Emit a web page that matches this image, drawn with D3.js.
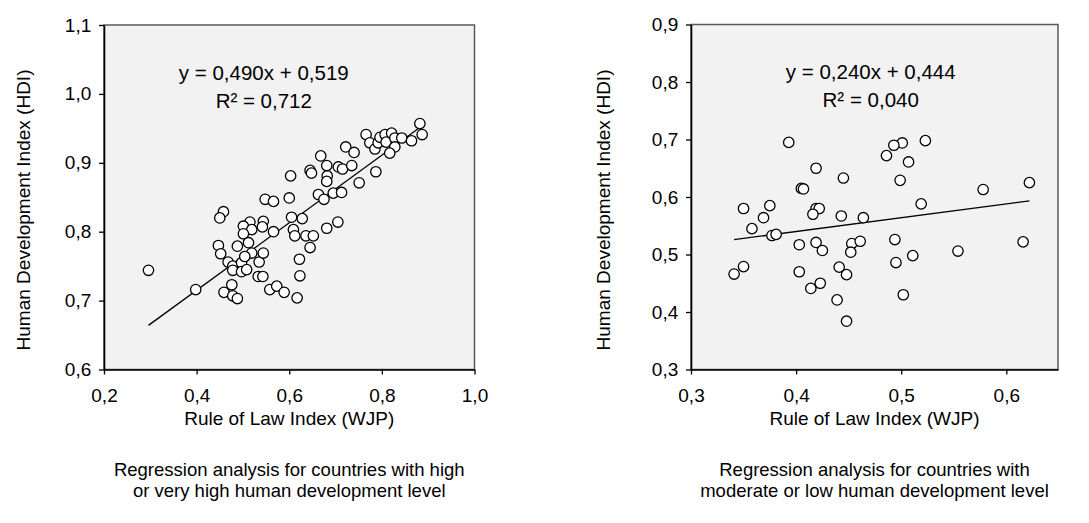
<!DOCTYPE html>
<html>
<head>
<meta charset="utf-8">
<script src="https://cdn.jsdelivr.net/npm/d3@7"></script>
<style>
  body { margin: 0; background: #fff; }
  svg { display: block; font-family: "Liberation Sans", Arial, sans-serif; }
</style>
</head>
<body>
<div id="chart"></div>
<script>
// left panel: high / very high HDI countries
const highRuleOfLaw = [0.548,0.458,0.450,0.515,0.544,0.501,0.519,0.542,0.501,0.447,0.452,0.488,0.512,0.468,0.478,0.478,0.497,0.497,0.508,0.519,0.504,0.535,0.544,0.533,0.543,0.296,0.398,0.459,0.476,0.478,0.488,0.558,0.573,0.589,0.617,0.623,0.622,0.645,0.566,0.609,0.612,0.636,0.652,0.681,0.705,0.605,0.628,0.566,0.600,0.663,0.675,0.695,0.713,0.751,0.603,0.645,0.648,0.682,0.681,0.668,0.681,0.706,0.715,0.735,0.787,0.722,0.740,0.766,0.774,0.785,0.792,0.796,0.807,0.821,0.809,0.828,0.843,0.828,0.817,0.864,0.882,0.887];
const highHdi = [0.847,0.829,0.820,0.814,0.815,0.808,0.803,0.807,0.797,0.780,0.768,0.779,0.784,0.756,0.750,0.744,0.755,0.742,0.745,0.769,0.764,0.756,0.769,0.735,0.735,0.744,0.716,0.712,0.723,0.707,0.703,0.716,0.721,0.712,0.704,0.736,0.760,0.777,0.800,0.803,0.794,0.794,0.794,0.805,0.814,0.821,0.819,0.844,0.849,0.854,0.847,0.856,0.857,0.871,0.881,0.889,0.885,0.881,0.873,0.910,0.896,0.894,0.891,0.896,0.887,0.923,0.915,0.941,0.929,0.920,0.929,0.937,0.941,0.943,0.930,0.936,0.936,0.923,0.914,0.932,0.957,0.941];

// right panel: moderate / low HDI countries
const lowRuleOfLaw = [0.393,0.419,0.445,0.405,0.407,0.350,0.375,0.369,0.358,0.419,0.422,0.416,0.443,0.377,0.381,0.403,0.419,0.425,0.341,0.350,0.403,0.414,0.423,0.441,0.448,0.439,0.448,0.523,0.501,0.493,0.486,0.507,0.499,0.578,0.622,0.519,0.464,0.453,0.461,0.452,0.494,0.495,0.511,0.554,0.616,0.502];
const lowHdi = [0.695,0.650,0.633,0.615,0.614,0.580,0.585,0.564,0.545,0.580,0.580,0.570,0.567,0.533,0.535,0.517,0.521,0.507,0.466,0.479,0.470,0.441,0.450,0.478,0.465,0.421,0.384,0.698,0.694,0.690,0.672,0.661,0.629,0.613,0.625,0.588,0.564,0.519,0.523,0.504,0.526,0.486,0.498,0.506,0.522,0.430];

const highTicksX = [0.2, 0.4, 0.6, 0.8, 1.0];
const highTicksY = [0.6, 0.7, 0.8, 0.9, 1.0, 1.1];
const lowTicksX = [0.3, 0.4, 0.5, 0.6];
const lowTicksY = [0.3, 0.4, 0.5, 0.6, 0.7, 0.8, 0.9];

const fmt = v => d3.format(".1f")(v).replace(".", ",");
const comma3 = v => v.toFixed(3).replace(".", ",");

const svg = d3.select("#chart").append("svg")
    .attr("width", 1089)
    .attr("height", 523);

function drawPanel(o) {
  const x = d3.scaleLinear().domain(o.xDomain).range([o.left, o.right]);
  const y = d3.scaleLinear().domain(o.yDomain).range([o.bottom, o.top]);
  const g = svg.append("g");

  // plot background + frame
  g.append("rect")
    .attr("x", o.left).attr("y", o.top)
    .attr("width", o.right - o.left).attr("height", o.bottom - o.top)
    .attr("fill", "#f2f2f2")
    .attr("stroke", "#595959")
    .attr("stroke-width", 1.5);

  const ax = g.append("g")
    .attr("transform", `translate(0,${o.bottom})`)
    .call(d3.axisBottom(x).tickValues(o.ticksX).tickFormat(fmt).tickSize(5).tickSizeOuter(0));
  const ay = g.append("g")
    .attr("transform", `translate(${o.left},0)`)
    .call(d3.axisLeft(y).tickValues(o.ticksY).tickFormat(fmt).tickSize(5).tickSizeOuter(0));
  [ax, ay].forEach(a => {
    a.select(".domain").attr("stroke", "#000").attr("stroke-width", 1.6);
    a.selectAll(".tick line").attr("stroke", "#000").attr("stroke-width", 1.3);
    a.selectAll("text").attr("font-size", 19).attr("fill", "#000")
      .attr("font-family", "Liberation Sans, Arial, sans-serif");
  });
  ax.selectAll("text").attr("dy", "1.3em");
  ay.selectAll("text").attr("dx", "-0.25em");

  // regression line
  const x0 = d3.min(o.xs), x1 = d3.max(o.xs);
  g.append("line")
    .attr("x1", x(x0)).attr("y1", y(o.slope * x0 + o.intercept))
    .attr("x2", x(x1)).attr("y2", y(o.slope * x1 + o.intercept))
    .attr("stroke", "#000").attr("stroke-width", 1.3);

  g.append("g").selectAll("circle")
    .data(o.xs.map((v, i) => [v, o.ys[i]]))
    .join("circle")
    .attr("cx", d => x(d[0]))
    .attr("cy", d => y(d[1]))
    .attr("r", 5.2)
    .attr("fill", "#fff")
    .attr("stroke", "#000")
    .attr("stroke-width", 1.3);

  // equation
  const cx = x(o.eqX);
  g.append("text").attr("x", cx).attr("y", o.eqY)
    .attr("text-anchor", "middle").attr("font-size", 20.5)
    .text(`y = ${comma3(o.slope)}x + ${comma3(o.intercept)}`);
  g.append("text").attr("x", cx).attr("y", o.eqY + 28)
    .attr("text-anchor", "middle").attr("font-size", 20.5)
    .text(`R² = ${comma3(o.r2)}`);

  const mid = (o.left + o.right) / 2;
  g.append("text").attr("x", mid).attr("y", 425)
    .attr("text-anchor", "middle").attr("font-size", 19)
    .text("Rule of Law Index (WJP)");
  g.append("text")
    .attr("transform", `translate(${o.yLabelX},${o.yLabelY}) rotate(-90)`)
    .attr("text-anchor", "middle").attr("font-size", 19)
    .text("Human Development Index (HDI)");

  o.caption.forEach((line, i) => {
    g.append("text").attr("x", mid).attr("y", 476 + i * 21)
      .attr("text-anchor", "middle").attr("font-size", 18.5)
      .text(line);
  });
}

drawPanel({
  left: 104, right: 474.5, top: 25, bottom: 369.5,
  xDomain: [0.2, 1.0], yDomain: [0.6, 1.1],
  ticksX: highTicksX, ticksY: highTicksY,
  xs: highRuleOfLaw, ys: highHdi,
  slope: 0.490, intercept: 0.519, r2: 0.712,
  eqX: 0.545, eqY: 80,
  yLabelX: 30, yLabelY: 210,
  caption: ["Regression analysis for countries with high", "or very high human development level"]
});

drawPanel({
  left: 691, right: 1058, top: 24.5, bottom: 369.5,
  xDomain: [0.3, 0.6492], yDomain: [0.3, 0.9],
  ticksX: lowTicksX, ticksY: lowTicksY,
  xs: lowRuleOfLaw, ys: lowHdi,
  slope: 0.240, intercept: 0.444, r2: 0.040,
  eqX: 0.471, eqY: 79,
  yLabelX: 610, yLabelY: 210,
  caption: ["Regression analysis for countries with", "moderate or low human development level"]
});
</script>
</body>
</html>
